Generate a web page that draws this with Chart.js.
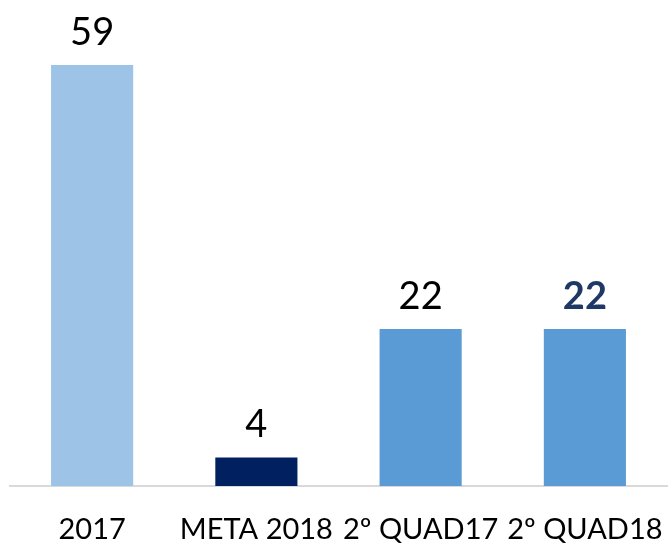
<!DOCTYPE html>
<html>
<head>
<meta charset="utf-8">
<script src="https://cdn.jsdelivr.net/npm/chart.js@4"></script>
<style>
  html, body { margin: 0; padding: 0; background: #fff; }
  #wrap { width: 668px; height: 544px; }
</style>
</head>
<body>
<div id="wrap"><canvas id="chart" width="668" height="544"></canvas></div>
<script>
const categories = ['2017', 'META 2018', '2º QUAD17', '2º QUAD18'];
const values = [59, 4, 22, 22];
const barColors = ['#9DC3E6', '#002060', '#5B9BD5', '#5B9BD5'];

// labels above each bar, the last one bold navy
const valueLabels = {
    id: 'valueLabels',
    afterDatasetsDraw(chart) {
        const ctx = chart.ctx;
        const meta = chart.getDatasetMeta(0);
        ctx.save();
        ctx.textAlign = 'center';
        ctx.textBaseline = 'alphabetic';
        meta.data.forEach((bar, i) => {
            const last = i === values.length - 1;
            ctx.font = (last ? 'bold ' : '') + '38px Lato';
            ctx.fillStyle = last ? '#1F3864' : '#000000';
            ctx.fillText(values[i], bar.x, bar.y - 20);
        });
        ctx.restore();
    }
};

const ctx = document.getElementById('chart').getContext('2d');
const chart = new Chart(ctx, {
    type: 'bar',
    data: {
        labels: categories,
        datasets: [{
            data: values,
            backgroundColor: barColors,
            borderWidth: 0,
            barPercentage: 0.5,
            categoryPercentage: 1
        }]
    },
    options: {
        responsive: false,
        animation: false,
        layout: { padding: { top: 65, left: 10, right: 1, bottom: 0 } },
        plugins: { legend: { display: false }, tooltip: { enabled: false } },
        scales: {
            x: {
                grid: { display: false, drawTicks: false },
                border: { display: true, color: '#D9D9D9', width: 2 },
                ticks: {
                    color: '#000000',
                    font: { family: 'Lato', size: 29 },
                    padding: 26,
                    maxRotation: 0,
                    autoSkip: false
                },
                afterFit(scale) {
                    scale.height = 58;
                    scale.paddingLeft = 0;
                    scale.paddingRight = 0;
                }
            },
            y: {
                display: false,
                min: 0,
                max: 59
            }
        }
    },
    plugins: [valueLabels]
});
</script>
</body>
</html>
